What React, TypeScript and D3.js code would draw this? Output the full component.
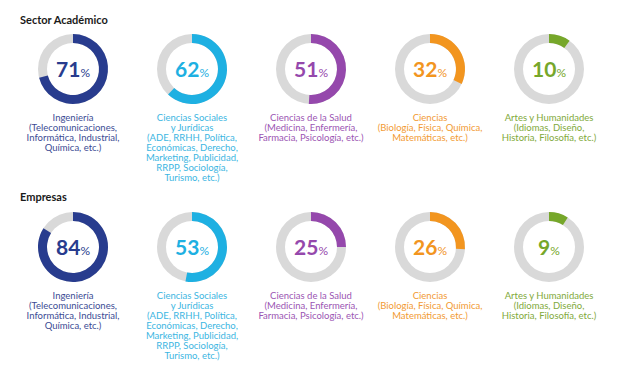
import React from 'react';
import * as d3 from 'd3';

// Chart data
const categories = [
    ['Ingeniería', '(Telecomunicaciones,', 'Informática, Industrial,', 'Química, etc.)'],
    ['Ciencias Sociales', 'y Jurídicas', '(ADE, RRHH, Política,', 'Económicas, Derecho,', 'Marketing, Publicidad,', 'RRPP, Sociología,', 'Turismo, etc.)'],
    ['Ciencias de la Salud', '(Medicina, Enfermería,', 'Farmacia, Psicología, etc.)'],
    ['Ciencias', '(Biología, Física, Química,', 'Matemáticas, etc.)'],
    ['Artes y Humanidades', '(Idiomas, Diseño,', 'Historia, Filosofía, etc.)'],
];
const sectorTitles = ['Sector Académico', 'Empresas'];
const academicValues = [71, 62, 51, 32, 10];
const businessValues = [84, 53, 25, 26, 9];
const colors = ['#283c8e', '#1eb0e2', '#9548ac', '#f2951f', '#76a72a'];
const labelColors = ['#3b4b94', '#3cb6e2', '#9b55b3', '#f29a33', '#7fa93a'];

const W = 620;
const H = 368;
const FONT = 'Lato, "Open Sans", sans-serif';

export default function App() {
    const x = d3.scalePoint<number>().domain(d3.range(categories.length)).range([73, 549]);
    const rowY = [69, 247];
    const titleY = [24, 201];
    const rows = [academicValues, businessValues];

    const arc = d3.arc<any>().innerRadius(26).outerRadius(35);
    const angle = d3.scaleLinear().domain([0, 100]).range([0, 2 * Math.PI]);

    return (
        <svg width={W} height={H} style={{ position: 'absolute', left: 0, top: 0, background: '#fff' }} fontFamily={FONT}>
            {rows.map((vals, r) => (
                <g key={r}>
                    <text x={20} y={titleY[r]} fontSize={11} fontWeight={700} fill="#1a1a1a">{sectorTitles[r]}</text>
                    {vals.map((v, i) => (
                        <g key={i} transform={`translate(${x(i)},${rowY[r]})`}>
                            <path d={arc({ startAngle: 0, endAngle: 2 * Math.PI }) as string} fill="#d9d9d9" />
                            <path d={arc({ startAngle: 0, endAngle: angle(v) }) as string} fill={colors[i]} />
                            <text y={8} textAnchor="middle" fill={colors[i]} fontWeight={700}>
                                <tspan fontSize={21}>{v}</tspan>
                                <tspan fontSize={12} fontWeight={400}>%</tspan>
                            </text>
                            {categories[i].map((line, k) => (
                                <text key={k} y={52 + k * 10} textAnchor="middle" fontSize={9.5} fill={labelColors[i]}>{line}</text>
                            ))}
                        </g>
                    ))}
                </g>
            ))}
        </svg>
    );
}
